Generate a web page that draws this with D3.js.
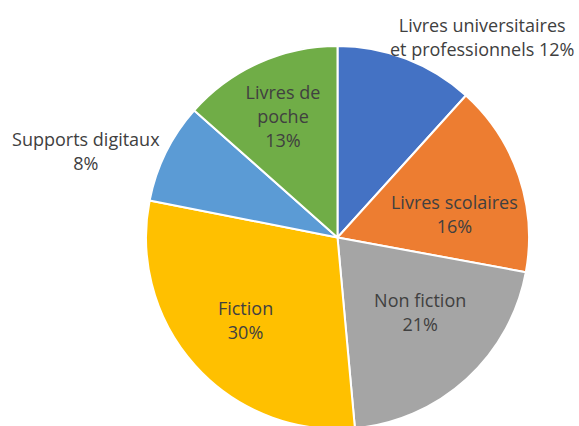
<!DOCTYPE html>
<html>
<head>
<meta charset="utf-8">
<script src="https://cdn.jsdelivr.net/npm/d3@7"></script>
<style>
  body { margin: 0; background: #fff; }
  svg { display: block; }
</style>
</head>
<body>
<div id="chart"></div>
<script>
// data, clockwise from 12 o'clock (shares)
const categories = ["Livres universitaires et professionnels", "Livres scolaires", "Non fiction", "Fiction", "Supports digitaux", "Livres de poche"]
const shares = [11.7, 16.2, 20.65, 29.55, 8.45, 13.45]
const labelLines = [
    ["Livres universitaires", "et professionnels 12%"],
    ["Livres scolaires", "16%"],
    ["Non fiction", "21%"],
    ["Fiction", "30%"],
    ["Supports digitaux", "8%"],
    ["Livres de", "poche", "13%"]
]
const colors = ["#4472C4", "#ED7D31", "#A5A5A5", "#FFC000", "#5B9BD5", "#70AD47"]

// label placement (angle offset in degrees from slice middle, radius in px)
const labelLayout = [
    {da: 14.8, r: 247},
    {da: 7.9, r: 119},
    {da: -5.2, r: 112},
    {da: -0.1, r: 124},
    {da: -7.5, r: 266},
    {da: -0.1, r: 132.5}
]

const chart = function (id) {
    const width = 579
    const height = 426
    const cx = 337.5
    const cy = 237.5
    const radius = 191.5
    const lineHeight = 24

    const svg = d3.select("#" + id)
        .append("svg")
        .attr("width", width)
        .attr("height", height)
        .attr("viewBox", [0, 0, width, height])

    const layer_slices = svg.append("g").attr("transform", `translate(${cx},${cy})`)
    const layer_labels = svg.append("g").attr("transform", `translate(${cx},${cy})`)

    const data = categories.map((c, i) => ({name: c, value: shares[i], color: colors[i], lines: labelLines[i], layout: labelLayout[i]}))

    const pie = d3.pie()
        .sort(null)
        .value(d => d.value)
    const arcs = pie(data)

    const arc = d3.arc()
        .innerRadius(0)
        .outerRadius(radius)

    layer_slices
        .selectAll("path")
        .data(arcs)
        .enter().append("path")
        .attr("d", arc)
        .attr("fill", d => d.data.color)
        .attr("stroke", "#fff")
        .attr("stroke-width", 2)
        .attr("stroke-linejoin", "round")

    const labels = layer_labels
        .selectAll("text")
        .data(arcs)
        .enter().append("text")
        .attr("text-anchor", "middle")
        .style("font-family", "'Open Sans', 'Liberation Sans', sans-serif")
        .style("font-size", "18px")
        .attr("fill", "#404040")
        .attr("transform", d => {
            const a = (d.startAngle + d.endAngle) / 2 + d.data.layout.da * Math.PI / 180
            const r = d.data.layout.r
            return `translate(${r * Math.sin(a)},${-r * Math.cos(a)})`
        })

    labels.each(function (d) {
        const n = d.data.lines.length
        d3.select(this)
            .selectAll("tspan")
            .data(d.data.lines)
            .enter().append("tspan")
            .attr("x", 0)
            .attr("y", (t, i) => (i - (n - 1) / 2) * lineHeight)
            .attr("dy", "0.35em")
            .text(t => t)
    })
}

chart("chart")
</script>
</body>
</html>
